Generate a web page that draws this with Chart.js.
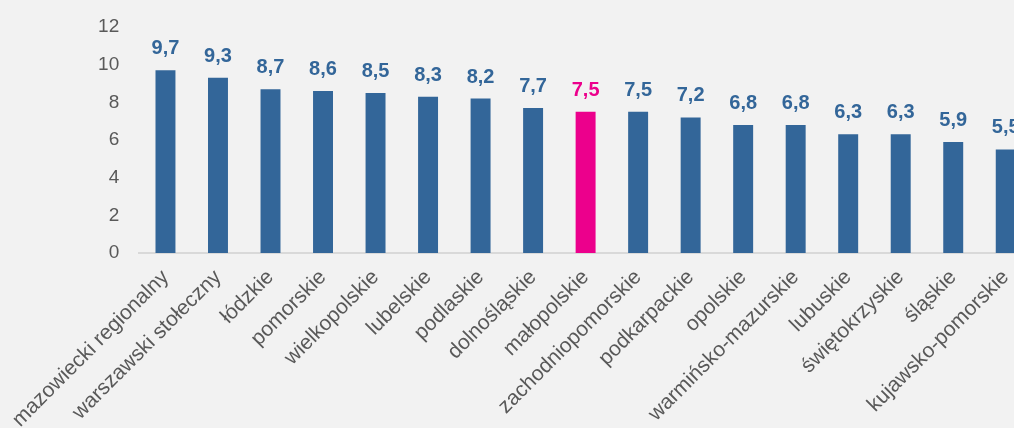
<!DOCTYPE html>
<html>
<head>
<meta charset="utf-8">
<script src="https://cdn.jsdelivr.net/npm/chart.js@4.4.0/dist/chart.umd.min.js"></script>
<style>
  html, body { margin: 0; padding: 0; background: #f2f2f2; overflow: hidden; }
  #wrap { width: 1014px; height: 428px; overflow: hidden; }
</style>
</head>
<body>
<div id="wrap"><canvas id="chartWoj" width="1040" height="428"></canvas></div>
<script>
const wojewodztwa = [
  "mazowiecki regionalny", "warszawski stołeczny", "łódzkie", "pomorskie",
  "wielkopolskie", "lubelskie", "podlaskie", "dolnośląskie", "małopolskie",
  "zachodniopomorskie", "podkarpackie", "opolskie", "warmińsko-mazurskie",
  "lubuskie", "świętokrzyskie", "śląskie", "kujawsko-pomorskie"
];
const wartosci = [9.7, 9.3, 8.7, 8.6, 8.5, 8.3, 8.2, 7.7, 7.5, 7.5, 7.2, 6.8, 6.8, 6.3, 6.3, 5.9, 5.5];
const wyrozniony = "małopolskie";
const osY = [0, 2, 4, 6, 8, 10, 12];

const niebieski = "#336699";
const rozowy = "#ec008c";
const kolory = wojewodztwa.map(w => w === wyrozniony ? rozowy : niebieski);

// etykiety wartosci nad slupkami
const etykiety = {
  id: "etykiety",
  afterDatasetsDraw(chart) {
    const ctx = chart.ctx;
    const meta = chart.getDatasetMeta(0);
    ctx.save();
    ctx.font = "bold 20px 'Liberation Sans', Arial, sans-serif";
    ctx.textAlign = "center";
    ctx.textBaseline = "alphabetic";
    meta.data.forEach((bar, i) => {
      ctx.fillStyle = kolory[i];
      ctx.fillText(wartosci[i].toFixed(1).replace(".", ","), bar.x, bar.y - 16);
    });
    ctx.restore();
  }
};

let ctx = document.getElementById("chartWoj").getContext("2d");
new Chart(ctx, {
  type: 'bar',
  data: {
    labels: wojewodztwa,
    datasets: [{
      data: wartosci,
      backgroundColor: kolory,
      borderWidth: 0,
      barPercentage: 0.76,
      categoryPercentage: 0.5
    }]
  },
  options: {
    responsive: false,
    animation: false,
    layout: { padding: { top: 27, right: 8, left: 0, bottom: 0 } },
    plugins: { legend: { display: false }, tooltip: { enabled: false } },
    scales: {
      x: {
        grid: { display: false, drawTicks: false },
        border: { color: "#d9d9d9", width: 2 },
        ticks: {
          color: "#595959",
          font: { family: "'Liberation Sans', Arial, sans-serif", size: 21 },
          minRotation: 45,
          maxRotation: 45,
          autoSkip: false,
          padding: 12
        },
        afterFit: s => { s.height = 175; }
      },
      y: {
        min: 0,
        max: 12,
        afterBuildTicks: s => { s.ticks = osY.map(v => ({ value: v })); },
        grid: { display: false, drawTicks: false },
        border: { display: false },
        ticks: {
          color: "#595959",
          font: { family: "'Liberation Sans', Arial, sans-serif", size: 19 },
          padding: 20
        },
        afterFit: s => { s.width = 139; s.paddingTop = 0; s.paddingBottom = 0; }
      }
    }
  },
  plugins: [etykiety]
});
</script>
</body>
</html>
